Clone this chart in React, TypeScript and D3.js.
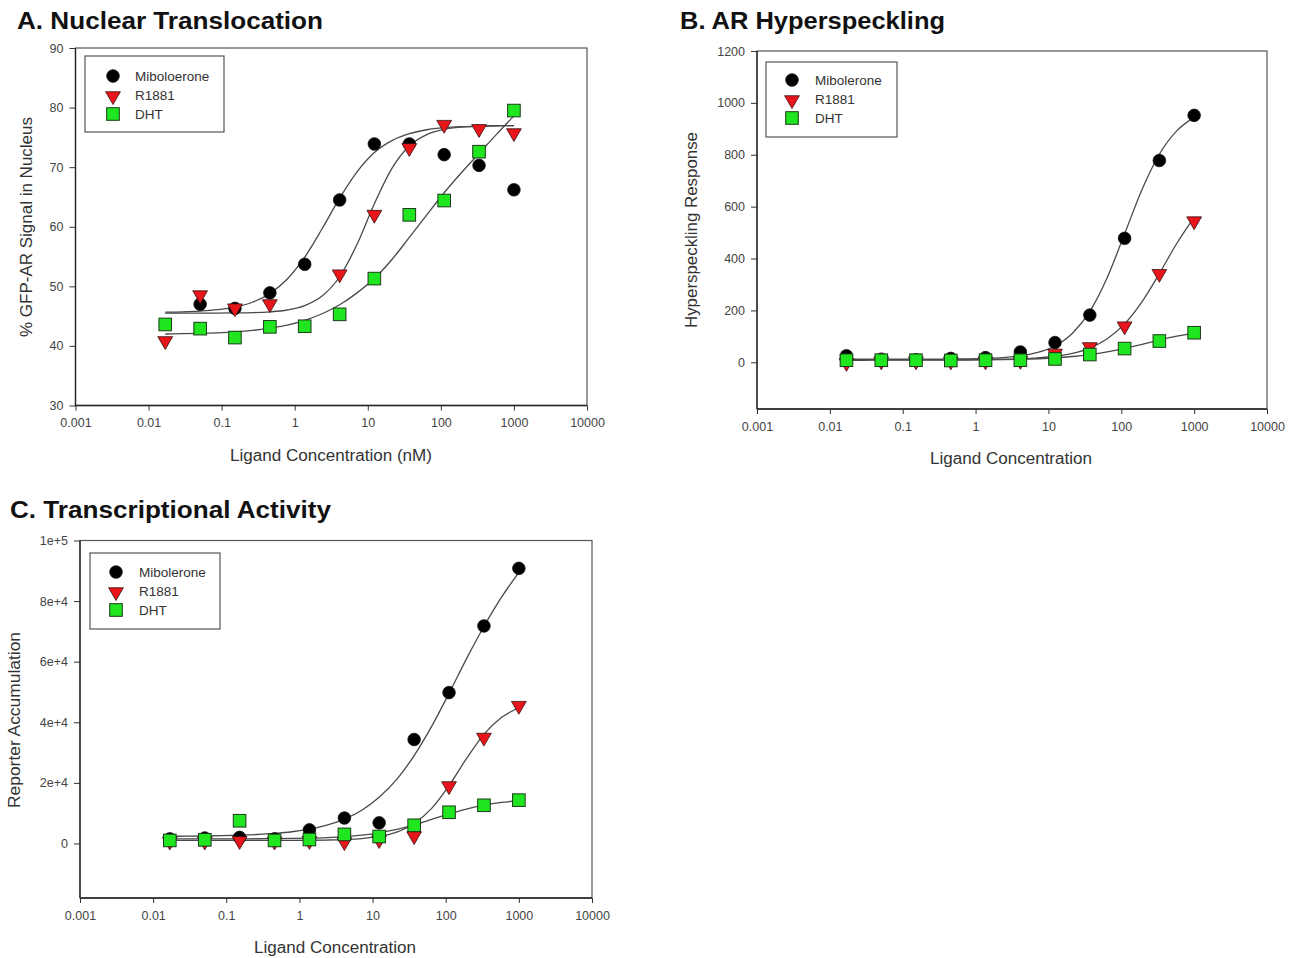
import React, { useEffect, useRef } from 'react';
import * as d3 from 'd3';

// Ligand concentrations (nM) of the measured points
const concentrations = [0.0169, 0.0508, 0.152, 0.457, 1.37, 4.12, 12.3, 37.0, 111, 333, 1000];
const fitConcentrations = [
  0.0169, 0.0293, 0.0508, 0.0879, 0.152, 0.264, 0.457, 0.791, 1.37, 2.37, 4.12,
  7.13, 12.3, 21.4, 37.0, 64.2, 111, 192, 333, 577, 1000,
];

const xTicks = [0.001, 0.01, 0.1, 1, 10, 100, 1000, 10000];
const xTickLabels = ['0.001', '0.01', '0.1', '1', '10', '100', '1000', '10000'];

// A. Nuclear translocation (% GFP-AR signal in nucleus)
const translocationTicks = [30, 40, 50, 60, 70, 80, 90];
const translocationMibolerone = [null, 47.0, 46.3, 48.9, 53.7, 64.5, 73.9, 73.9, 72.1, 70.3, 66.2];
const translocationR1881 = [41.0, 48.7, 46.5, 47.2, null, 52.2, 62.2, 73.4, 77.3, 76.6, 75.9];
const translocationDHT = [43.6, 42.9, 41.4, 43.2, 43.3, 45.3, 51.3, 62.0, 64.4, 72.6, 79.5];
const translocationFitMibolerone = [45.67, 45.73, 45.85, 46.08, 46.52, 47.33, 48.78, 51.22, 54.89, 59.67, 64.79, 69.2, 72.45, 74.46, 75.62, 76.28, 76.62, 76.8, 76.9, 76.95, 76.97];
const translocationFitR1881 = [45.5, 45.5, 45.5, 45.52, 45.54, 45.59, 45.72, 46.03, 46.76, 48.36, 51.61, 57.06, 63.86, 69.79, 73.54, 75.46, 76.34, 76.72, 76.87, 76.95, 76.98];
const translocationFitDHT = [42.0, 42.05, 42.1, 42.2, 42.35, 42.6, 43.0, 43.5, 44.3, 45.4, 46.9, 48.9, 51.3, 54.5, 58.2, 62.0, 65.7, 69.1, 72.3, 75.5, 78.6];

// B. AR hyperspeckling
const hyperTicks = [0, 200, 400, 600, 800, 1000, 1200];
const hyperMibolerone = [25, 12, 10, 15, 18, 40, 76, 182, 478, 778, 952];
const hyperR1881 = [2, 8, 8, 8, 8, 10, 38, 63, 143, 345, 548];
const hyperDHT = [8, 8, 8, 7, 8, 8, 13, 30, 53, 82, 114];
const hyperFitMibolerone = [12.0, 12.0, 12.0, 12.1, 12.2, 12.4, 12.8, 13.5, 15.0, 18.0, 25, 38, 63, 112, 196, 327, 495, 665, 802, 892, 944];
const hyperFitR1881 = [10, 10, 10, 10, 10.1, 10.2, 10.3, 10.6, 11.1, 12.1, 13.8, 17.2, 23.3, 34.8, 55, 90.7, 148, 233, 342, 458, 559];
const hyperFitDHT = [8.0, 8.0, 8.1, 8.1, 8.2, 8.3, 8.5, 8.8, 9.3, 10.2, 11.5, 13.7, 17.0, 22.3, 29.8, 40.3, 53.8, 69.5, 85.7, 100.5, 112.8];

// C. Transcriptional activity (reporter accumulation)
const reporterTicks = [0, 20000, 40000, 60000, 80000, 100000];
const reporterTickLabels = ['0', '2e+4', '4e+4', '6e+4', '8e+4', '1e+5'];
const reporterMibolerone = [1500, 1800, 2000, 1500, 4500, 8400, 6800, 34300, 49800, 71800, 90800];
const reporterR1881 = [1000, 1000, 1200, 1000, 1200, 800, 1500, 2800, 19300, 35300, 45800];
const reporterDHT = [1000, 1200, 7500, 1000, 1300, 3000, 2300, 6000, 10300, 12600, 14300];
const reporterFitMibolerone = [2370, 2410, 2470, 2570, 2720, 2960, 3320, 3870, 4730, 6050, 8040, 10980, 15240, 21150, 29000, 38660, 49540, 60940, 71620, 81200, 89500];
const reporterFitR1881 = [1000, 1000, 1000, 1000, 1001, 1003, 1014, 1029, 1063, 1135, 1290, 1620, 2320, 3760, 6600, 11580, 19100, 28000, 36000, 41560, 44800];
const reporterFitDHT = [1503, 1506, 1510, 1517, 1529, 1550, 1587, 1649, 1757, 1937, 2243, 2733, 3498, 4632, 6131, 7913, 9735, 11369, 12638, 13529, 14109];

const FONT = '"Liberation Sans", Arial, sans-serif';
const TEXT = '#333';
const markerKinds = ['circle', 'triangle', 'square'];

const panels = [
  {
    title: 'A.  Nuclear Translocation', titleX: 17, titleY: 29, titleW: 306,
    left: 75.5, right: 587, top: 48, bottom: 405.5,
    yDomain: [30, 90], yTicks: translocationTicks, yTickLabels: translocationTicks.map(String),
    xTitle: 'Ligand Concentration (nM)', xTitleX: 331, xTitleY: 461, xTitleW: 202,
    yTitle: '% GFP-AR Signal in Nucleus', yTitleX: 32, yTitleY: 227, yTitleW: 220,
    legend: { x: 85, y: 56, w: 139, h: 76, markerX: 113, textX: 135, rows: [76, 95, 114] },
    names: ['Miboloerone', 'R1881', 'DHT'],
    points: [translocationMibolerone, translocationR1881, translocationDHT],
    fits: [translocationFitMibolerone, translocationFitR1881, translocationFitDHT],
  },
  {
    title: 'B. AR Hyperspeckling', titleX: 680, titleY: 29, titleW: 265,
    left: 757, right: 1267, top: 51, bottom: 409,
    yDomain: [-180, 1200], yTicks: hyperTicks, yTickLabels: hyperTicks.map(String),
    xTitle: 'Ligand Concentration', xTitleX: 1011, xTitleY: 464, xTitleW: 162,
    yTitle: 'Hyperspeckling Response', yTitleX: 697, yTitleY: 230, yTitleW: 196,
    legend: { x: 766, y: 62, w: 131, h: 75, markerX: 792, textX: 815, rows: [80, 99, 118] },
    names: ['Mibolerone', 'R1881', 'DHT'],
    points: [hyperMibolerone, hyperR1881, hyperDHT],
    fits: [hyperFitMibolerone, hyperFitR1881, hyperFitDHT],
  },
  {
    title: 'C.  Transcriptional Activity', titleX: 10, titleY: 518, titleW: 321,
    left: 80, right: 592, top: 540.5, bottom: 898,
    yDomain: [-18000, 100000], yTicks: reporterTicks, yTickLabels: reporterTickLabels,
    xTitle: 'Ligand Concentration', xTitleX: 335, xTitleY: 953, xTitleW: 162,
    yTitle: 'Reporter Accumulation', yTitleX: 20, yTitleY: 720, yTitleW: 176,
    legend: { x: 90, y: 553, w: 130, h: 76, markerX: 116, textX: 139, rows: [572, 591, 610] },
    names: ['Mibolerone', 'R1881', 'DHT'],
    points: [reporterMibolerone, reporterR1881, reporterDHT],
    fits: [reporterFitMibolerone, reporterFitR1881, reporterFitDHT],
  },
];

function drawMarker(g, kind, x, y) {
  if (kind === 'circle') {
    g.append('circle').attr('cx', x).attr('cy', y).attr('r', 6.3)
      .attr('fill', '#000').attr('stroke', '#111').attr('stroke-width', 0.8);
  } else if (kind === 'triangle') {
    g.append('path')
      .attr('d', d3.symbol(d3.symbolTriangle, 95)())
      .attr('transform', `translate(${x},${y + 1}) rotate(180)`)
      .attr('fill', '#e8161b').attr('stroke', '#3a1010').attr('stroke-width', 0.8);
  } else {
    g.append('rect').attr('x', x - 6.3).attr('y', y - 6.3).attr('width', 12.6).attr('height', 12.6)
      .attr('fill', '#1fe61f').attr('stroke', '#1b3a1b').attr('stroke-width', 1);
  }
}

function drawPanel(svg, p) {
  const x = d3.scaleLog().domain([0.001, 10000]).range([p.left, p.right]);
  const y = d3.scaleLinear().domain(p.yDomain).range([p.bottom, p.top]);
  const g = svg.append('g');

  // title
  g.append('text').attr('x', p.titleX).attr('y', p.titleY)
    .attr('font-size', 23).attr('font-weight', 'bold').attr('fill', '#111')
    .attr('textLength', p.titleW).attr('lengthAdjust', 'spacingAndGlyphs')
    .text(p.title);

  // x axis
  const xAxis = g.append('g').attr('transform', `translate(0,${p.bottom})`)
    .call(d3.axisBottom(x).tickValues(xTicks).tickFormat((d, i) => xTickLabels[i])
      .tickSize(5).tickPadding(8).tickSizeOuter(0));
  // y axis
  const yAxis = g.append('g').attr('transform', `translate(${p.left},0)`)
    .call(d3.axisLeft(y).tickValues(p.yTicks).tickFormat((d, i) => p.yTickLabels[i])
      .tickSize(6).tickPadding(6).tickSizeOuter(0));
  [xAxis, yAxis].forEach((a) => {
    a.select('.domain').remove();
    a.selectAll('line').attr('stroke', '#333');
    a.selectAll('text').attr('font-size', 12.5).attr('font-family', FONT).attr('fill', '#444');
  });

  // frame
  g.append('rect').attr('x', p.left).attr('y', p.top)
    .attr('width', p.right - p.left).attr('height', p.bottom - p.top)
    .attr('fill', 'none').attr('stroke', '#555').attr('stroke-width', 1.2);
  g.append('line').attr('x1', p.left).attr('x2', p.right).attr('y1', p.bottom).attr('y2', p.bottom)
    .attr('stroke', '#222').attr('stroke-width', 1.3);
  g.append('line').attr('x1', p.left).attr('x2', p.left).attr('y1', p.top).attr('y2', p.bottom)
    .attr('stroke', '#222').attr('stroke-width', 1.3);

  // axis titles
  g.append('text').attr('x', p.xTitleX).attr('y', p.xTitleY).attr('text-anchor', 'middle')
    .attr('font-size', 16).attr('fill', TEXT)
    .attr('textLength', p.xTitleW).attr('lengthAdjust', 'spacingAndGlyphs')
    .text(p.xTitle);
  g.append('text').attr('transform', `translate(${p.yTitleX},${p.yTitleY}) rotate(-90)`)
    .attr('text-anchor', 'middle').attr('font-size', 16).attr('fill', TEXT)
    .attr('textLength', p.yTitleW).attr('lengthAdjust', 'spacingAndGlyphs')
    .text(p.yTitle);

  // fitted curves
  const line = d3.line()
    .x((d, i) => x(fitConcentrations[i]))
    .y((d) => y(d))
    .curve(d3.curveMonotoneX);
  p.fits.forEach((fit) => {
    g.append('path').datum(fit).attr('d', line)
      .attr('fill', 'none').attr('stroke', '#4a4a4a').attr('stroke-width', 1.3);
  });

  // data points
  p.points.forEach((series, s) => {
    series.forEach((v, i) => {
      if (v === null) return;
      drawMarker(g, markerKinds[s], x(concentrations[i]), y(v));
    });
  });

  // legend
  const L = p.legend;
  g.append('rect').attr('x', L.x).attr('y', L.y).attr('width', L.w).attr('height', L.h)
    .attr('fill', '#fff').attr('stroke', '#555').attr('stroke-width', 1.2);
  p.names.forEach((name, s) => {
    drawMarker(g, markerKinds[s], L.markerX, L.rows[s]);
    g.append('text').attr('x', L.textX).attr('y', L.rows[s] + 4.5)
      .attr('font-size', 13.5).attr('fill', TEXT).text(name);
  });
}

export default function App() {
  const ref = useRef(null);

  useEffect(() => {
    const svg = d3.select(ref.current);
    svg.selectAll('*').remove();
    svg.append('rect').attr('width', 1291).attr('height', 958).attr('fill', '#fff');
    panels.forEach((p) => drawPanel(svg, p));
  }, []);

  return (
    <svg
      ref={ref}
      width={1291}
      height={958}
      style={{ position: 'absolute', left: 0, top: 0, fontFamily: FONT }}
    />
  );
}
